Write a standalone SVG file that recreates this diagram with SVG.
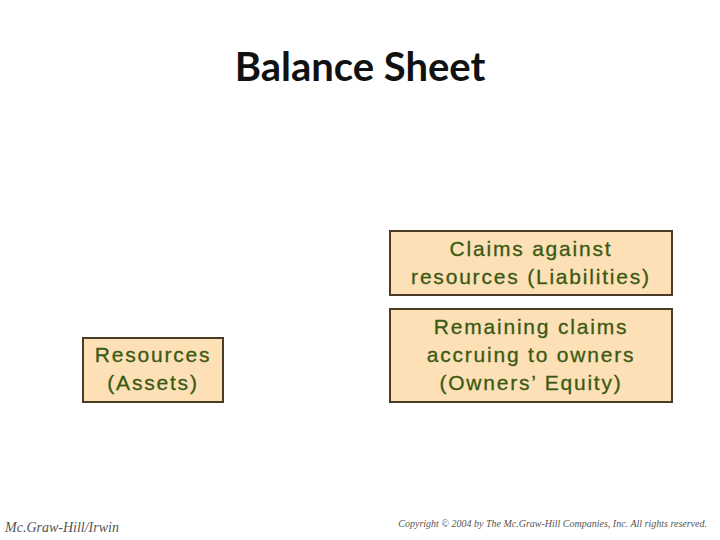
<svg xmlns="http://www.w3.org/2000/svg" width="720" height="540" viewBox="0 0 720 540">
<style>
.box{fill:#fde0b6;stroke:#4a3b22;stroke-width:2}
.t{font-family:"Liberation Sans",Arial,sans-serif;font-size:21px;letter-spacing:1.8px;fill:#3a5a14;stroke:#3a5a14;stroke-width:0.3;text-anchor:middle}
.f{font-family:"Liberation Serif","Times New Roman",serif;font-style:italic;fill:#555}
</style>
<rect width="720" height="540" fill="#fff"/>
<text x="360" y="81" text-anchor="middle" font-family="Lato,'Open Sans',sans-serif" font-weight="bold" font-size="40" fill="#111">Balance Sheet</text>
<g id="assets"><rect class="box" x="83" y="338" width="140" height="64"/>
<text class="t" x="153" y="362">Resources</text><text class="t" x="153" y="390">(Assets)</text></g>
<g id="liabilities"><rect class="box" x="390" y="231" width="282" height="64"/>
<text class="t" x="531" y="256">Claims against</text><text class="t" x="531" y="284">resources (Liabilities)</text></g>
<g id="equity"><rect class="box" x="390" y="309" width="282" height="93"/>
<text class="t" x="531" y="334">Remaining claims</text><text class="t" x="531" y="362">accruing to owners</text><text class="t" x="531" y="390">(Owners’ Equity)</text></g>
<g id="connectors"/>
<text class="f" x="5" y="532" font-size="14">Mc.Graw-Hill/Irwin</text>
<text class="f" x="707" y="527" font-size="10" text-anchor="end">Copyright © 2004 by The Mc.Graw-Hill Companies, Inc. All rights reserved.</text>
</svg>
